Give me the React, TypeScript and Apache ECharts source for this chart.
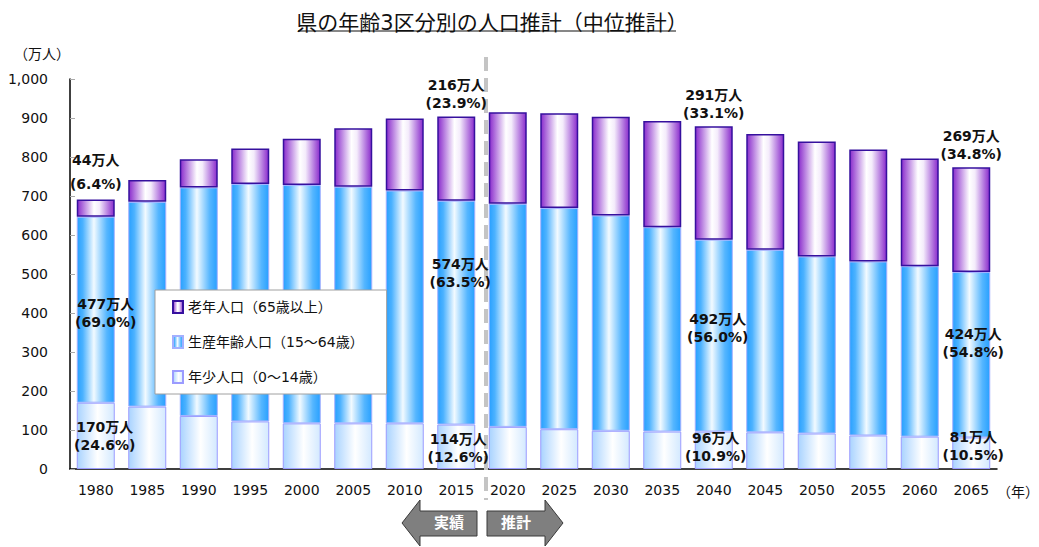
import React, { useEffect, useRef } from "react";
import * as echarts from "echarts";

const years = ["1980","1985","1990","1995","2000","2005","2010","2015","2020","2025","2030","2035","2040","2045","2050","2055","2060","2065"];
const young = [170,160,136,122,117,117,117,114,108,102,98,96,96,94,91,86,83,81];
const working = [477,525,586,609,611,607,597,574,572,567,552,524,492,468,454,446,437,424];
const old = [44,56,72,91,119,150,185,216,235,243,253,272,291,297,295,287,276,269];
const yTicks = [0,100,200,300,400,500,600,700,800,900,1000];
const labeled = [0,7,12,17];
const seriesNames = ["老年人口（65歳以上）","生産年齢人口（15～64歳）","年少人口（0～14歳）"];
const youngOffsets: Record<number, number[]> = { 0: [9, 0], 7: [2, 1], 12: [2, -3], 17: [2, -7] };
const workingOffsets: Record<number, number[]> = { 0: [10, 3], 7: [4, -40], 12: [4, -8], 17: [2, -12] };

const FONT = "'DejaVu Sans', 'Noto Sans CJK JP', sans-serif";

function pct(i: number, v: number) {
  const t = young[i] + working[i] + old[i];
  return ((v / t) * 100).toFixed(1);
}

function grad(stops: [number, string][]) {
  return new echarts.graphic.LinearGradient(0, 0, 1, 0, stops.map(([offset, color]) => ({ offset, color })));
}

export default function App() {
  const ref = useRef<HTMLDivElement>(null);
  useEffect(() => {
    document.body.style.margin = "0";
    const chart = echarts.init(ref.current!, null, { renderer: "svg" });
    const labelBase = { fontFamily: FONT, fontWeight: "bold", fontSize: 14, color: "#111", lineHeight: 18 };

    const mk = (arr: number[], offsets: Record<number, number[]> | null, pos: string) =>
      arr.map((v, i) => {
        if (!labeled.includes(i)) return v;
        const lab: any = {
          show: true,
          position: pos,
          ...labelBase,
          formatter: `${v}万人\n(${pct(i, v)}%)`,
        };
        if (offsets) lab.offset = offsets[i];
        if (pos === "top") {
          lab.distance = 4;
          if (i === 0) lab.lineHeight = 24;
        }
        return { value: v, label: lab };
      });

    const option: any = {
      animation: false,
      textStyle: { fontFamily: FONT },
      title: {
        text: "県の年齢3区分別の人口推計（中位推計）",
        left: 487,
        textAlign: "center",
        top: 7,
        textStyle: { fontFamily: FONT, fontSize: 21, fontWeight: "normal", color: "#111" },
      },
      legend: {
        data: seriesNames,
        orient: "vertical",
        left: 155,
        top: 290,
        backgroundColor: "#fff",
        borderColor: "#a0a0a0",
        borderWidth: 1,
        padding: [10, 23, 10, 17],
        itemGap: 21,
        itemWidth: 10,
        itemHeight: 12,
        icon: "rect",
        textStyle: { fontFamily: FONT, fontSize: 14, color: "#111" },
      },
      grid: { left: 70, right: 42, top: 79, bottom: 78, outerBoundsMode: "none", containLabel: false },
      xAxis: {
        type: "category",
        data: years,
        name: "（年）",
        nameLocation: "end",
        nameGap: 0,
        nameTextStyle: { fontFamily: FONT, fontSize: 14, color: "#111", verticalAlign: "top", padding: [16, 0, 0, 0] },
        axisLine: { lineStyle: { color: "#000", width: 1.5 } },
        axisTick: { inside: true, length: 5, lineStyle: { color: "#aaa" } },
        axisLabel: { fontFamily: FONT, fontSize: 14, color: "#111", margin: 14 },
      },
      yAxis: {
        type: "value",
        min: yTicks[0],
        max: yTicks[yTicks.length - 1],
        interval: 100,
        name: "（万人）",
        nameLocation: "end",
        nameGap: 18,
        nameTextStyle: { fontFamily: FONT, fontSize: 14, color: "#111", align: "right", padding: [0, 0, 0, 0] },
        axisLine: { show: true, lineStyle: { color: "#000", width: 1.5 } },
        axisTick: { show: true, inside: true, length: 5, lineStyle: { color: "#aaa" } },
        splitLine: { show: false },
        axisLabel: {
          fontFamily: FONT, fontSize: 14, color: "#111", margin: 22,
          formatter: (v: number) => v.toLocaleString("en-US"),
        },
      },
      series: [
        {
          name: seriesNames[2],
          type: "bar",
          stack: "pop",
          barWidth: 38,
          data: mk(young, youngOffsets, "inside"),
          itemStyle: {
            color: grad([[0, "#a9d3ff"], [0.55, "#ffffff"], [1, "#d3e9ff"]]),
            borderColor: "#9b9bff",
            borderWidth: 1,
          },
        },
        {
          name: seriesNames[1],
          type: "bar",
          stack: "pop",
          barWidth: 38,
          data: mk(working, workingOffsets, "inside"),
          itemStyle: {
            color: grad([[0, "#28a0ff"], [0.15, "#4cb2ff"], [0.45, "#f2faff"], [0.8, "#55b6ff"], [1, "#28a0ff"]]),
            borderColor: "#a3b0ff",
            borderWidth: 1,
          },
        },
        {
          name: seriesNames[0],
          type: "bar",
          stack: "pop",
          barWidth: 38,
          data: mk(old, null, "top"),
          itemStyle: {
            color: grad([[0, "#8a2ccc"], [0.45, "#ffffff"], [0.6, "#f4ecfb"], [1, "#8a2ccc"]]),
            borderColor: "#36109e",
            borderWidth: 1.5,
          },
        },
      ],
    };
    chart.setOption(option);

    const p1 = chart.convertToPixel({ xAxisIndex: 0 }, years[7]) as number;
    const p2 = chart.convertToPixel({ xAxisIndex: 0 }, years[8]) as number;
    const dx = (p1 + p2) / 2 + 4;

    chart.setOption({
      graphic: [
        {
          type: "line",
          shape: { x1: 298, y1: 31, x2: 676, y2: 31 },
          style: { stroke: "#111", lineWidth: 1.2 },
          z: 10,
        },
        {
          type: "line",
          shape: { x1: dx, y1: 57, x2: dx, y2: 500 },
          style: { stroke: "#c4c4c4", lineWidth: 4, lineDash: [14, 7] },
          z: 1,
        },
        {
          type: "polygon",
          shape: { points: [[402, 523], [420, 500], [420, 511], [477, 511], [477, 536], [420, 536], [420, 546]] },
          style: { fill: "#7f7f7f", stroke: "#3a3a3a", lineWidth: 1 },
        },
        {
          type: "text",
          x: 449, y: 523,
          style: { text: "実績", fill: "#fff", font: `bold 15px ${FONT}`, align: "center", verticalAlign: "middle" },
        },
        {
          type: "polygon",
          shape: { points: [[487, 511], [545, 511], [545, 500], [563, 523], [545, 546], [545, 536], [487, 536]] },
          style: { fill: "#7f7f7f", stroke: "#3a3a3a", lineWidth: 1 },
        },
        {
          type: "text",
          x: 516, y: 523,
          style: { text: "推計", fill: "#fff", font: `bold 15px ${FONT}`, align: "center", verticalAlign: "middle" },
        },
      ],
    });

    return () => chart.dispose();
  }, []);
  return <div ref={ref} style={{ width: 1039, height: 547 }} />;
}
